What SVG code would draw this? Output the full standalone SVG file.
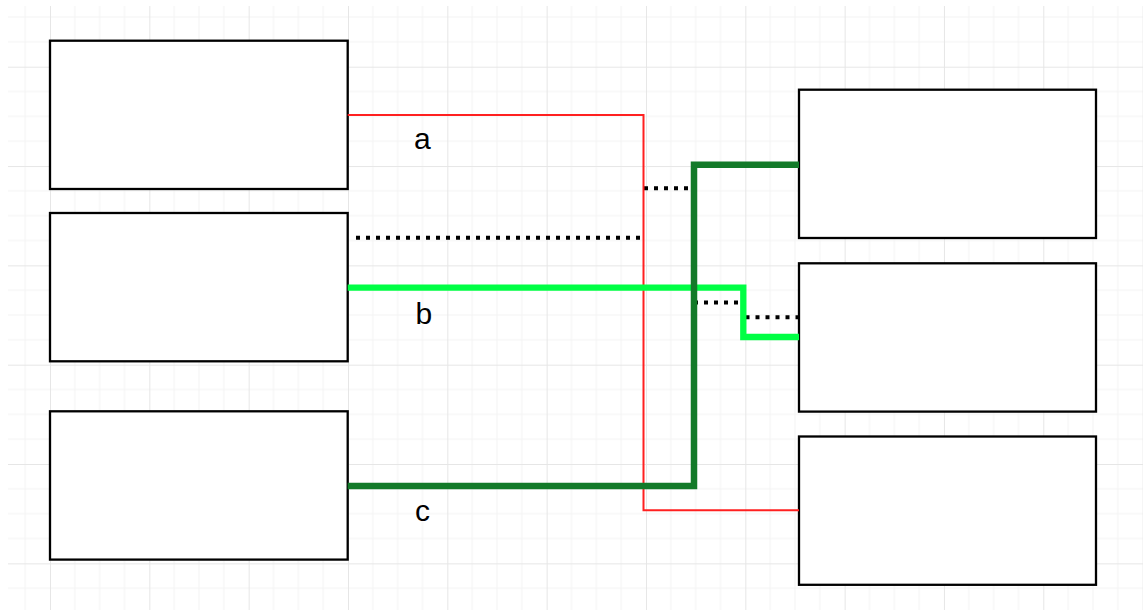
<svg xmlns="http://www.w3.org/2000/svg" width="1143" height="610" viewBox="0 0 1143 610">
  <style>
    .box { fill: #ffffff; stroke: #000000; stroke-width: 2.3; }
    .dot { fill: none; stroke: #000000; stroke-width: 4; stroke-dasharray: 4 6; }
    .lbl { font-family: "Liberation Sans", Arial, sans-serif; font-size: 30px; fill: #000000; }
    .minor { stroke: #f3f3f3; stroke-width: 1; }
    .major { stroke: #e6e6e6; stroke-width: 1; }
  </style>
  <defs>
    <pattern id="grid" patternUnits="userSpaceOnUse" x="50" y="66.7" width="99.33" height="99.33">
      <path class="minor" d="M24.83 0V99.33M49.67 0V99.33M74.5 0V99.33M0 24.83H99.33M0 49.67H99.33M0 74.5H99.33"/>
      <path class="major" d="M0.5 0V99.33M0 0.5H99.33"/>
    </pattern>
  </defs>
  <rect x="0" y="0" width="1143" height="610" fill="#ffffff"/>
  <rect x="8" y="6" width="1135" height="604" fill="url(#grid)"/>

  <g id="nodes">
    <g id="left1"><rect class="box" x="50" y="40.7" width="297.7" height="148.3"/></g>
    <g id="left2"><rect class="box" x="50" y="213" width="297.7" height="148.3"/></g>
    <g id="left3"><rect class="box" x="50" y="411.3" width="297.7" height="148.3"/></g>
    <g id="right1"><rect class="box" x="799" y="89.7" width="297" height="148.3"/></g>
    <g id="right2"><rect class="box" x="799" y="263.3" width="297" height="148.3"/></g>
    <g id="right3"><rect class="box" x="799" y="436.5" width="297" height="148.3"/></g>
  </g>

  <g id="connectors">
    <path class="dot" d="M356 237.7H643"/>
    <path class="dot" d="M644 188.3H691"/>
    <path class="dot" d="M694 302.5H740"/>
    <path class="dot" d="M745.5 317.3H799"/>
    <path id="conn-a" d="M347.7 115H643.5V510.3H799" fill="none" stroke="#ff2020" stroke-width="2"/>
    <path id="conn-b" d="M347.7 287.7H743.3V337H799" fill="none" stroke="#00ff44" stroke-width="6.3"/>
    <path id="conn-c" d="M347.7 486H694V164.7H799" fill="none" stroke="#137a29" stroke-width="6.5"/>
    <text class="lbl" x="414" y="149">a</text>
    <text class="lbl" x="415.5" y="324">b</text>
    <text class="lbl" x="415" y="521">c</text>
  </g>
</svg>
